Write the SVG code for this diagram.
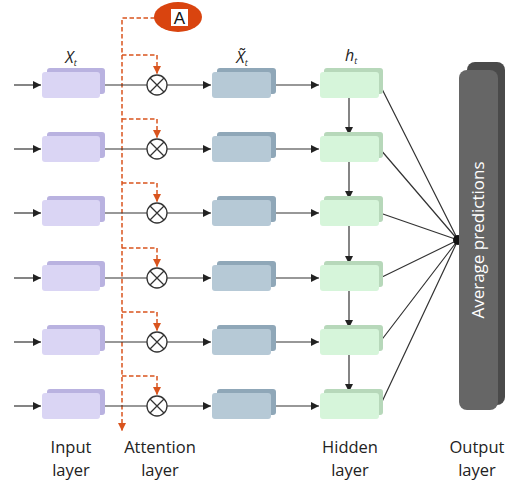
<svg xmlns="http://www.w3.org/2000/svg" width="508" height="484" viewBox="0 0 508 484">
<defs>
<style>
.ln{stroke:#333;stroke-width:1.2;fill:none}
.ds{stroke:#d9541e;stroke-width:1.5;fill:none;stroke-dasharray:4.5,2.5}
.lbl{font-family:"Open Sans","Noto Sans",sans-serif;font-size:16.5px;fill:#222;text-anchor:middle}
.it{font-family:"Open Sans","Noto Sans",sans-serif;font-style:italic;fill:#222}
</style>
<marker id="ah" viewBox="0 0 10 10" refX="10" refY="5" markerWidth="8" markerHeight="8" markerUnits="userSpaceOnUse" orient="auto"><path d="M0,0L10,5L0,10z" fill="#222"/></marker>
<marker id="ao" viewBox="0 0 10 10" refX="10" refY="5" markerWidth="8" markerHeight="8" markerUnits="userSpaceOnUse" orient="auto"><path d="M0,0L10,5L0,10z" fill="#d9541e"/></marker>
<g id="inbox"><rect x="47" y="-17" width="58" height="26" rx="3" fill="#b9b2e0"/><rect x="42" y="-13" width="58" height="26" rx="3" fill="#dad5f4"/></g>
<g id="tbox"><rect x="217" y="-17" width="59" height="26" rx="3" fill="#8fa7b8"/><rect x="212" y="-13" width="59" height="26" rx="3" fill="#b6c9d6"/></g>
<g id="hbox"><rect x="324" y="-17" width="59" height="26" rx="3" fill="#b7d8ba"/><rect x="320" y="-13" width="59" height="26" rx="3" fill="#d6f5da"/></g>
<g id="mul"><circle cx="157" cy="0" r="10" fill="#fff" stroke="#333" stroke-width="1.3"/><path d="M150,-7L164,7M164,-7L150,7" stroke="#333" stroke-width="1.3"/></g>
</defs>
<rect width="508" height="484" fill="#fff"/>

<g id="connectors">
<path class="ds" d="M155,18H122V431" marker-end="url(#ao)"/>
<g id="row-conns">
<g transform="translate(0,85)"><path class="ln" d="M14,0H41" marker-end="url(#ah)"/><path class="ln" d="M105,0H147"/><path class="ln" d="M167,0H211" marker-end="url(#ah)"/><path class="ln" d="M276,0H319" marker-end="url(#ah)"/><path class="ds" d="M122,-30H157V-11" marker-end="url(#ao)"/></g>
<g transform="translate(0,149)"><path class="ln" d="M14,0H41" marker-end="url(#ah)"/><path class="ln" d="M105,0H147"/><path class="ln" d="M167,0H211" marker-end="url(#ah)"/><path class="ln" d="M276,0H319" marker-end="url(#ah)"/><path class="ds" d="M122,-30H157V-11" marker-end="url(#ao)"/></g>
<g transform="translate(0,213)"><path class="ln" d="M14,0H41" marker-end="url(#ah)"/><path class="ln" d="M105,0H147"/><path class="ln" d="M167,0H211" marker-end="url(#ah)"/><path class="ln" d="M276,0H319" marker-end="url(#ah)"/><path class="ds" d="M122,-30H157V-11" marker-end="url(#ao)"/></g>
<g transform="translate(0,278)"><path class="ln" d="M14,0H41" marker-end="url(#ah)"/><path class="ln" d="M105,0H147"/><path class="ln" d="M167,0H211" marker-end="url(#ah)"/><path class="ln" d="M276,0H319" marker-end="url(#ah)"/><path class="ds" d="M122,-30H157V-11" marker-end="url(#ao)"/></g>
<g transform="translate(0,342)"><path class="ln" d="M14,0H41" marker-end="url(#ah)"/><path class="ln" d="M105,0H147"/><path class="ln" d="M167,0H211" marker-end="url(#ah)"/><path class="ln" d="M276,0H319" marker-end="url(#ah)"/><path class="ds" d="M122,-30H157V-11" marker-end="url(#ao)"/></g>
<g transform="translate(0,406)"><path class="ln" d="M14,0H41" marker-end="url(#ah)"/><path class="ln" d="M105,0H147"/><path class="ln" d="M167,0H211" marker-end="url(#ah)"/><path class="ln" d="M276,0H319" marker-end="url(#ah)"/><path class="ds" d="M122,-30H157V-11" marker-end="url(#ao)"/></g>
</g>
<g id="hidden-vert">
<path class="ln" d="M349,98V135" marker-end="url(#ah)"/>
<path class="ln" d="M349,162V199" marker-end="url(#ah)"/>
<path class="ln" d="M349,226V264" marker-end="url(#ah)"/>
<path class="ln" d="M349,291V328" marker-end="url(#ah)"/>
<path class="ln" d="M349,355V392" marker-end="url(#ah)"/>
</g>
<g id="to-output">
<path class="ln" d="M380,85L458,240M380,149L458,240M380,213L458,240M380,278L458,240M380,342L458,240M380,406L458,240"/>
</g>
<circle cx="458" cy="240" r="5" fill="#111"/>
</g>

<g id="attention-A">
<ellipse cx="178" cy="17" rx="24" ry="15" fill="#d9440f"/>
<rect x="171" y="9" width="17" height="17" fill="#fff"/>
<text x="179.5" y="24" font-family="Liberation Sans,Arial,sans-serif" font-size="17" fill="#111" text-anchor="middle">A</text>
</g>

<g id="input-nodes">
<use href="#inbox" y="85"/><use href="#inbox" y="149"/><use href="#inbox" y="213"/><use href="#inbox" y="278"/><use href="#inbox" y="342"/><use href="#inbox" y="406"/>
</g>
<g id="mul-nodes">
<use href="#mul" y="85"/><use href="#mul" y="149"/><use href="#mul" y="213"/><use href="#mul" y="278"/><use href="#mul" y="342"/><use href="#mul" y="406"/>
</g>
<g id="attended-nodes">
<use href="#tbox" y="85"/><use href="#tbox" y="149"/><use href="#tbox" y="213"/><use href="#tbox" y="278"/><use href="#tbox" y="342"/><use href="#tbox" y="406"/>
</g>
<g id="hidden-nodes">
<use href="#hbox" y="85"/><use href="#hbox" y="149"/><use href="#hbox" y="213"/><use href="#hbox" y="278"/><use href="#hbox" y="342"/><use href="#hbox" y="406"/>
</g>

<g id="output-node">
<rect x="467" y="62" width="38" height="343" rx="8" fill="#4a4a4a"/>
<rect x="459" y="70" width="39" height="340" rx="8" fill="#666"/>
<text transform="translate(484,240) rotate(-90)" font-family="Open Sans,Noto Sans,sans-serif" font-size="17" fill="#fff" text-anchor="middle">Average predictions</text>
</g>

<g id="top-labels">
<text class="it" x="71" y="63" font-size="16" text-anchor="middle">X<tspan font-size="9" dy="3">t</tspan></text>
<text class="it" x="242" y="63" font-size="16" text-anchor="middle">X&#771;<tspan font-size="9" dy="3">t</tspan></text>
<text class="it" x="351" y="61" font-size="16" text-anchor="middle">h<tspan font-size="9" dy="3">t</tspan></text>
</g>

<g id="bottom-labels">
<text class="lbl" x="71" y="453">Input</text><text class="lbl" x="71" y="475.6">layer</text>
<text class="lbl" x="160" y="453">Attention</text><text class="lbl" x="160" y="475.6">layer</text>
<text class="lbl" x="350" y="453">Hidden</text><text class="lbl" x="350" y="475.6">layer</text>
<text class="lbl" x="477" y="453">Output</text><text class="lbl" x="477" y="475.6">layer</text>
</g>
</svg>
